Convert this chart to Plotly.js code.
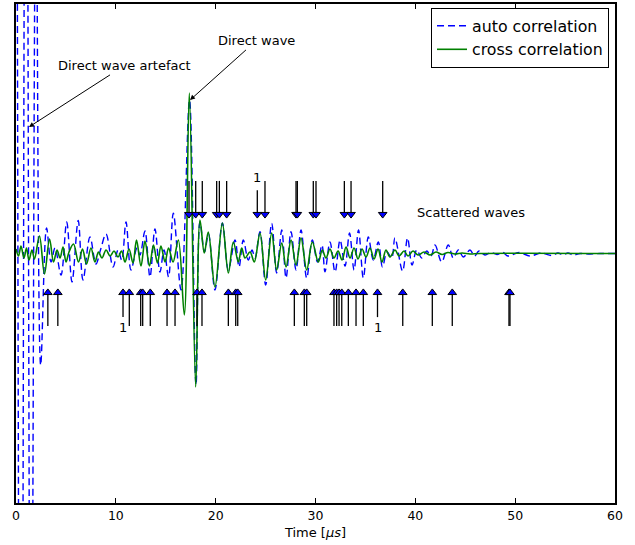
<!DOCTYPE html>
<html>
<head>
<meta charset="utf-8">
<script src="https://cdn.plot.ly/plotly-3.0.1.min.js"></script>
<style>html,body{margin:0;padding:0;background:#fff;}#chart{width:635px;height:545px;}</style>
</head>
<body>
<div id="chart"></div>
<script>
// auto correlation (blue dashed): time [µs] and amplitude
const autoT = [0, 0.5, 1.0, 1.5, 2.0, 2.47, 3.06, 3.51, 3.91, 4.51, 5.08, 5.61, 6.23, 6.71, 7.41, 8.01, 8.46, 9.02, 9.72, 10.22, 10.59, 11.02, 11.52, 12.12, 12.42, 12.92, 13.42, 13.92, 14.42, 14.83, 15.28, 15.76, 16.53, 17.38, 18.03, 18.43, 18.88, 19.28, 19.93, 20.67, 21.27, 21.94, 22.34, 22.77, 23.27, 23.64, 23.94, 24.44, 25.01, 25.61, 26.11, 26.62, 27.05, 27.55, 28.05, 28.55, 29.12, 29.68, 30.20, 30.65, 30.95, 31.45, 31.96, 32.46, 32.96, 33.41, 33.86, 34.31, 34.79, 35.29, 35.79, 36.29, 36.71, 37.16, 37.63, 37.96, 38.72, 39.22, 39.67, 40.14, 40.64, 41.14, 41.57, 41.97, 42.64, 43.30, 43.80, 44.31, 44.81, 45.48, 45.93, 46.38, 46.98, 47.58, 48.18, 48.78, 49.28, 50.39, 51.49, 52.59, 53.69, 54.29, 54.79, 55.29, 55.80, 56.50, 57.50, 58.50, 60.0];
const autoY = [4.0, -3.5, 3.0, -2.5, 1.6, -0.447, 0.102, -0.034, 0.022, -0.086, 0.126, -0.114, 0.132, -0.106, 0.066, -0.042, 0.014, 0.078, -0.054, 0.014, -0.026, 0.126, -0.066, 0.022, -0.006, 0.090, -0.094, 0.098, -0.074, 0.014, -0.094, 0.162, -0.146, 0.615, -0.527, 0.126, 0.006, 0.078, -0.146, 0.122, -0.066, 0.054, -0.054, 0.054, -0.026, 0.014, -0.018, 0.087, -0.126, 0.121, -0.078, 0.094, -0.098, 0.087, -0.066, 0.094, -0.098, 0.054, -0.034, 0.034, -0.073, 0.046, -0.074, 0.054, -0.050, 0.082, -0.066, 0.094, -0.098, 0.066, -0.026, 0.046, -0.054, 0.006, -0.018, 0.062, -0.070, 0.062, -0.046, 0.014, -0.018, 0.010, -0.010, 0.034, -0.034, 0.034, -0.018, 0.014, -0.014, 0.014, -0.010, 0.010, -0.006, 0.004, -0.004, 0.004, -0.010, 0.004, -0.010, 0.002, -0.008, 0.002, -0.006, 0.002, -0.006, 0.0, -0.002, 0.0, 0.0];

// cross correlation (green solid)
const crossT = [0, 0.25, 0.50, 0.80, 1.05, 1.30, 1.60, 1.85, 2.35, 2.85, 3.36, 3.76, 4.11, 4.41, 4.71, 5.01, 5.31, 5.76, 6.26, 6.66, 7.06, 7.51, 7.91, 8.26, 8.61, 9.02, 9.42, 9.82, 10.22, 10.57, 10.92, 11.32, 11.72, 12.07, 12.52, 12.92, 13.37, 13.77, 14.17, 14.52, 14.93, 15.28, 15.73, 16.26, 16.86, 17.36, 18.00, 18.43, 18.86, 19.26, 19.93, 20.67, 21.27, 21.77, 22.27, 22.61, 22.94, 23.44, 23.87, 24.44, 25.01, 25.61, 26.11, 26.62, 27.05, 27.55, 28.05, 28.55, 29.12, 29.68, 30.28, 30.68, 31.05, 31.45, 31.85, 32.26, 32.66, 33.06, 33.46, 33.86, 34.26, 34.66, 35.06, 35.46, 35.86, 36.26, 36.66, 37.06, 37.46, 37.96, 38.37, 38.87, 39.27, 39.77, 40.27, 40.87, 41.47, 42.07, 42.67, 43.27, 43.98, 44.68, 45.48, 46.48, 60.0];
const crossY = [0.018, -0.010, 0.030, -0.018, 0.022, -0.026, 0.014, -0.022, 0.070, -0.082, 0.058, -0.034, 0.014, -0.018, 0.026, -0.034, 0.006, 0.038, -0.034, 0.018, -0.042, 0.022, -0.034, 0.006, -0.018, 0.014, -0.010, 0.010, -0.014, 0.010, -0.034, 0.018, -0.038, 0.054, -0.050, 0.050, -0.050, 0.034, -0.038, 0.030, -0.034, 0.022, -0.034, 0.054, -0.246, 0.643, -0.535, 0.134, 0.002, 0.086, -0.134, 0.122, -0.078, 0.046, -0.034, 0.022, -0.018, 0.006, -0.034, 0.082, -0.106, 0.082, -0.066, 0.042, -0.054, 0.054, -0.046, 0.062, -0.066, 0.046, -0.034, 0.014, -0.018, 0.018, -0.018, 0.010, -0.026, 0.026, -0.018, 0.022, -0.022, 0.018, -0.014, 0.022, -0.022, 0.018, -0.034, 0.014, -0.014, 0.014, -0.010, 0.010, -0.010, 0.010, -0.006, 0.006, -0.006, 0.006, -0.004, 0.004, -0.002, 0.002, -0.002, 0.0, 0.0];

// arrival markers (times in µs)
const downArrowT = [17.33, 18.0, 18.66, 20.1, 20.37, 21.1, 24.17, 24.94, 28.05, 28.18, 29.78, 30.05, 32.89, 33.56, 36.73];
const upArrowT = [3.19, 4.19, 10.72, 11.35, 12.49, 12.69, 13.45, 15.13, 15.93, 18.13, 18.63, 21.27, 22.01, 22.21, 27.88, 28.88, 29.12, 31.85, 32.12, 32.36, 32.63, 33.29, 34.06, 34.79, 36.21, 38.74, 41.70, 43.70, 49.38, 49.48];
const downLabelT = [24.17];
const upLabelT = [10.72, 36.21];
const markLabel = '1';

// texts
const seriesNames = ['auto correlation', 'cross correlation'];
const xTitle = 'Time [<i>μs</i>]';
const xTicks = [0, 10, 20, 30, 40, 50, 60];

// geometry of arrow glyphs (styling, in data units of y)
const topTail = 0.291, topTailShort = 0.254, topHead = 0.157;
const botTail = -0.291, botTailShort = -0.255, botHead = -0.157;

function shafts(times, tailDefault, tailShort, head, labelled) {
  const xs = [], ys = [];
  times.forEach(t => {
    const short = labelled.some(l => Math.abs(l - t) < 1e-6);
    xs.push(t, t, null);
    ys.push(short ? tailShort : tailDefault, head, null);
  });
  return {xs, ys};
}
const sTop = shafts(downArrowT, topTail, topTailShort, topHead, downLabelT);
const sBot = shafts(upArrowT, botTail, botTailShort, botHead, upLabelT);

const FONT = 'DejaVu Sans, sans-serif';

const traces = [
  {x: autoT, y: autoY, type: 'scatter', mode: 'lines', name: seriesNames[0],
   line: {color: '#0000ff', width: 1.4, dash: '7px,4px', shape: 'spline', smoothing: 1}},
  {x: crossT, y: crossY, type: 'scatter', mode: 'lines', name: seriesNames[1],
   line: {color: '#008000', width: 1.6, shape: 'spline', smoothing: 1}},
  {x: sTop.xs, y: sTop.ys, type: 'scatter', mode: 'lines', showlegend: false, hoverinfo: 'skip',
   line: {color: '#000000', width: 1.3}},
  {x: sBot.xs, y: sBot.ys, type: 'scatter', mode: 'lines', showlegend: false, hoverinfo: 'skip',
   line: {color: '#000000', width: 1.3}},
  {x: downArrowT, y: downArrowT.map(() => topHead), type: 'scatter', mode: 'markers', showlegend: false,
   marker: {symbol: 'triangle-down', size: 7.5, color: '#0000ff', line: {color: '#000000', width: 1}}},
  {x: upArrowT, y: upArrowT.map(() => botHead), type: 'scatter', mode: 'markers', showlegend: false,
   marker: {symbol: 'triangle-up', size: 7.5, color: '#0000ff', line: {color: '#000000', width: 1}}}
];

const annFont = {family: FONT, size: 13, color: '#000'};
const annotations = [
  {x: 1.30, y: 0.507, ax: 10.82, ay: 0.752, axref: 'x', ayref: 'y', xref: 'x', yref: 'y',
   text: 'Direct wave artefact', showarrow: true, arrowhead: 2, arrowsize: 1, arrowwidth: 1, arrowcolor: '#000', font: annFont},
  {x: 17.43, y: 0.615, ax: 24.04, ay: 0.852, axref: 'x', ayref: 'y', xref: 'x', yref: 'y',
   text: 'Direct wave', showarrow: true, arrowhead: 2, arrowsize: 1, arrowwidth: 1, arrowcolor: '#000', font: annFont},
  {x: 45.58, y: 0.166, xref: 'x', yref: 'y', text: 'Scattered waves', showarrow: false, font: annFont}
];
downLabelT.forEach(t => annotations.push({x: t, y: 0.303, xref: 'x', yref: 'y', text: markLabel, showarrow: false, font: annFont}));
upLabelT.forEach(t => annotations.push({x: t, y: -0.295, xref: 'x', yref: 'y', text: markLabel, showarrow: false, font: annFont}));

const layout = {
  width: 635, height: 545,
  margin: {l: 16, r: 20, t: 4, b: 42},
  paper_bgcolor: '#ffffff', plot_bgcolor: '#ffffff',
  font: {family: FONT, size: 12.5, color: '#000'},
  showlegend: true,
  legend: {x: 0.99, y: 0.992, xanchor: 'right', yanchor: 'top', bgcolor: '#ffffff',
           bordercolor: '#000000', borderwidth: 1, font: {family: FONT, size: 15.8}, tracegroupgap: 0},
  xaxis: {range: [0, 60], tickvals: xTicks, ticktext: xTicks.map(String), ticks: 'inside', ticklen: 5, tickwidth: 1,
          tickcolor: '#000', showline: true, linewidth: 2, linecolor: '#000', mirror: 'ticks',
          showgrid: false, zeroline: false, tickfont: {family: FONT, size: 12.5},
          title: {text: xTitle, font: {family: FONT, size: 13}, standoff: 6}},
  yaxis: {range: [-1, 1], showticklabels: false, ticks: '', showline: true, linewidth: 2, linecolor: '#000',
          mirror: true, showgrid: false, zeroline: false},
  annotations: annotations
};

Plotly.newPlot('chart', traces, layout, {displayModeBar: false, staticPlot: true});
</script>
</body>
</html>
